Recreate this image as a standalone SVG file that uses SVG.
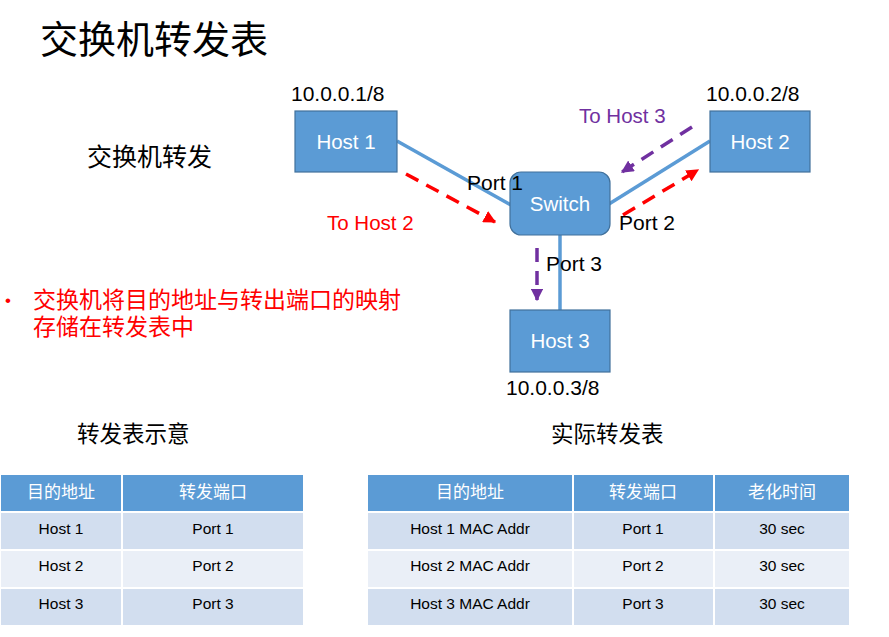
<svg xmlns="http://www.w3.org/2000/svg" width="889" height="637" viewBox="0 0 889 637">
<style>
text{font-family:"Liberation Sans","Noto Sans CJK SC",sans-serif}
.cjk{font-family:"Noto Sans CJK SC",sans-serif}
.box{fill:#5B9BD5;stroke:#41719C;stroke-width:1.2}
.bt{fill:#fff;font-size:20.5px;text-anchor:middle}
.lbl{fill:#000;font-size:21px}
.link{stroke:#5B9BD5;stroke-width:3.5;fill:none}
.red{stroke:#FF0000;stroke-width:3.5;stroke-dasharray:14,9;fill:none}
.pur{stroke:#7030A0;stroke-width:3.5;stroke-dasharray:14,9;fill:none}
.hd{fill:#5B9BD5}
.r1{fill:#D2DEEF}
.r2{fill:#EAEFF7}
.th{fill:#fff;font-size:17px;text-anchor:middle}
.td{fill:#000;font-size:15.5px;text-anchor:middle}
</style>
<defs>
<marker id="ar" viewBox="0 0 10 10" refX="9" refY="5" markerWidth="3.6" markerHeight="3.6" orient="auto"><path d="M0,0L10,5L0,10z" fill="#FF0000"/></marker>
<marker id="ap" viewBox="0 0 10 10" refX="9" refY="5" markerWidth="3.6" markerHeight="3.6" orient="auto"><path d="M0,0L10,5L0,10z" fill="#7030A0"/></marker>
</defs>
<rect width="889" height="637" fill="#fff"/>
<text class="cjk" x="40" y="53" font-size="38" fill="#000">交换机转发表</text>
<text class="cjk" x="87" y="166" font-size="25" fill="#000">交换机转发</text>
<g id="connectors">
<line class="link" x1="397" y1="141" x2="511" y2="205"/>
<line class="link" x1="609" y1="204" x2="710" y2="141"/>
<line class="link" x1="560" y1="235" x2="560" y2="310"/>
<line class="red" x1="406" y1="174" x2="495" y2="222" marker-end="url(#ar)"/>
<line class="red" x1="623" y1="215" x2="698" y2="170" marker-end="url(#ar)"/>
<line class="pur" x1="692" y1="127" x2="622" y2="172" marker-end="url(#ap)"/>
<line class="pur" x1="537" y1="248" x2="537" y2="300" marker-end="url(#ap)"/>
</g>
<g id="host1"><rect class="box" x="295" y="111" width="102" height="61"/><text class="bt" x="346" y="149">Host 1</text></g>
<g id="host2"><rect class="box" x="710" y="111" width="100" height="61"/><text class="bt" x="760" y="149">Host 2</text></g>
<g id="switch"><rect class="box" x="510" y="172" width="100" height="63" rx="11"/><text class="bt" x="560" y="211">Switch</text></g>
<g id="host3"><rect class="box" x="510" y="310" width="100" height="62"/><text class="bt" x="560" y="348">Host 3</text></g>
<text class="lbl" x="291" y="101">10.0.0.1/8</text>
<text class="lbl" x="706" y="101">10.0.0.2/8</text>
<text class="lbl" x="506" y="395">10.0.0.3/8</text>
<text class="lbl" x="467" y="190">Port 1</text>
<text class="lbl" x="619" y="230">Port 2</text>
<text class="lbl" x="546" y="271">Port 3</text>
<text x="579" y="123" font-size="20.5" fill="#7030A0">To Host 3</text>
<text x="327" y="230" font-size="20.5" fill="#FF0000">To Host 2</text>
<text x="5" y="306" font-size="17" fill="#FF0000">•</text>
<text x="33" y="308" font-size="23" fill="#FF0000">交换机将目的地址与转出端口的映射</text>
<text x="33" y="335" font-size="23" fill="#FF0000">存储在转发表中</text>
<text class="cjk" x="77" y="442" font-size="22.5" fill="#000">转发表示意</text>
<text class="cjk" x="551" y="442" font-size="22.5" fill="#000">实际转发表</text>
<g id="table1">
<rect class="hd" x="1" y="475" width="120" height="36"/><rect class="hd" x="123" y="475" width="180" height="36"/>
<rect class="r1" x="1" y="513" width="120" height="36"/><rect class="r1" x="123" y="513" width="180" height="36"/>
<rect class="r2" x="1" y="551" width="120" height="36"/><rect class="r2" x="123" y="551" width="180" height="36"/>
<rect class="r1" x="1" y="589" width="120" height="36"/><rect class="r1" x="123" y="589" width="180" height="36"/>
<text class="th cjk" x="61" y="498">目的地址</text><text class="th cjk" x="213" y="498">转发端口</text>
<text class="td" x="61" y="534">Host 1</text><text class="td" x="213" y="534">Port 1</text>
<text class="td" x="61" y="571">Host 2</text><text class="td" x="213" y="571">Port 2</text>
<text class="td" x="61" y="609">Host 3</text><text class="td" x="213" y="609">Port 3</text>
</g>
<g id="table2">
<rect class="hd" x="368" y="475" width="204" height="36"/><rect class="hd" x="574" y="475" width="139" height="36"/><rect class="hd" x="715" y="475" width="134" height="36"/>
<rect class="r1" x="368" y="513" width="204" height="36"/><rect class="r1" x="574" y="513" width="139" height="36"/><rect class="r1" x="715" y="513" width="134" height="36"/>
<rect class="r2" x="368" y="551" width="204" height="36"/><rect class="r2" x="574" y="551" width="139" height="36"/><rect class="r2" x="715" y="551" width="134" height="36"/>
<rect class="r1" x="368" y="589" width="204" height="36"/><rect class="r1" x="574" y="589" width="139" height="36"/><rect class="r1" x="715" y="589" width="134" height="36"/>
<text class="th cjk" x="470" y="498">目的地址</text><text class="th cjk" x="643" y="498">转发端口</text><text class="th cjk" x="782" y="498">老化时间</text>
<text class="td" x="470" y="534">Host 1 MAC Addr</text><text class="td" x="643" y="534">Port 1</text><text class="td" x="782" y="534">30 sec</text>
<text class="td" x="470" y="571">Host 2 MAC Addr</text><text class="td" x="643" y="571">Port 2</text><text class="td" x="782" y="571">30 sec</text>
<text class="td" x="470" y="609">Host 3 MAC Addr</text><text class="td" x="643" y="609">Port 3</text><text class="td" x="782" y="609">30 sec</text>
</g>
</svg>
